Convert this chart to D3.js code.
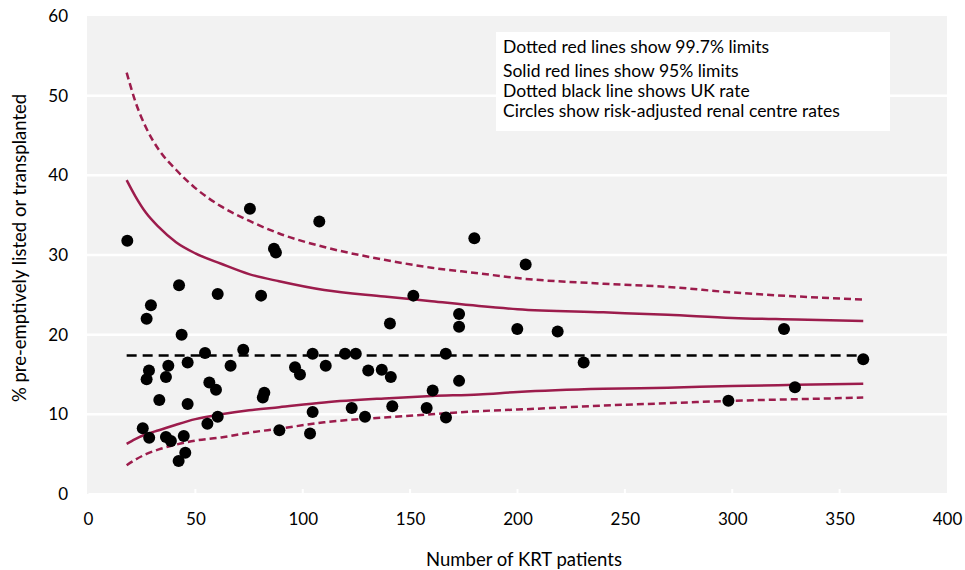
<!DOCTYPE html>
<html><head><meta charset="utf-8">
<script src="https://cdn.jsdelivr.net/npm/d3@7/dist/d3.min.js"></script>
<style>
body{margin:0;background:#fff;}
text{font-family:Lato,"Open Sans",sans-serif;fill:#000;}
</style></head>
<body><svg id="c" width="965" height="570"></svg>
<script>
// Centre points: number of KRT patients, % pre-emptively listed or transplanted
const centreN = [18.3,25.5,27.3,27.3,28.4,28.5,29.3,33.2,36.3,36.3,37.4,38.6,42.4,42.2,43.6,44.6,45.3,46.4,46.4,54.5,55.6,56.5,59.6,60.4,60.4,66.4,72.3,75.4,80.6,81.4,82.1,86.6,87.5,89.1,96.4,98.7,103.4,104.6,104.6,107.7,110.7,119.7,122.8,124.7,129.0,130.5,136.8,141.0,140.6,141.7,151.5,157.7,160.5,166.7,166.6,172.8,172.8,172.8,179.9,199.9,203.8,218.7,230.8,298.2,324.1,329.2,361.0];
const centreRate = [31.8,8.25,22.0,14.4,15.5,7.07,23.7,11.8,14.7,7.16,16.1,6.65,26.2,4.14,20.0,7.28,5.19,16.5,11.3,17.7,8.83,14.0,13.1,25.1,9.7,16.1,18.1,35.8,24.9,12.1,12.7,30.8,30.3,8.0,15.9,15.0,7.6,17.6,10.3,34.2,16.1,17.6,10.8,17.6,9.7,15.5,15.6,14.7,21.4,11.0,24.9,10.8,13.0,9.6,17.6,14.2,22.6,21.0,32.1,20.7,28.8,20.4,16.5,11.7,20.7,13.4,16.9];
// Funnel limits
const limitN   = [18,22,27,33,41,50,62,75,89,110,138,160,182,200,240,270,300,330,361];
const upper997 = [52.9,49.3,46.0,43.2,40.7,38.4,36.1,34.3,32.7,31.0,29.4,28.4,27.7,27.1,26.4,26.0,25.3,24.8,24.4];
const upper95  = [39.4,37.4,35.3,33.5,31.6,30.2,28.9,27.6,26.7,25.6,24.8,24.2,23.6,23.2,22.8,22.5,22.1,21.9,21.7];
const lower95  = [6.3,6.9,7.5,8.0,8.7,9.4,10.0,10.5,10.9,11.5,12.0,12.3,12.5,12.8,13.2,13.35,13.55,13.7,13.85];
const lower997 = [3.6,4.3,5.0,5.6,6.2,6.7,7.1,7.7,8.2,9.0,9.6,10.0,10.4,10.6,11.1,11.4,11.7,11.9,12.1];
const ukRate = 17.4;
const ukRange = [18, 361];
const xTicks = [0,50,100,150,200,250,300,350,400];
const yTicks = [0,10,20,30,40,50,60];
const legendLines = ["Dotted red lines show 99.7% limits","Solid red lines show 95% limits","Dotted black line shows UK rate","Circles show risk-adjusted renal centre rates"];

const svg = d3.select("#c");
const x = d3.scaleLinear().domain([0,400]).range([88,947]);
const y = d3.scaleLinear().domain([0,60]).range([494,16]);
const red = "#9c1c4c";

svg.append("rect").attr("x",87).attr("y",y(60)).attr("width",947-87).attr("height",y(0)-y(60)).attr("fill","#f2f2f2");

// gridlines
svg.append("g").selectAll("line").data(yTicks.filter(d=>d>0&&d<60)).join("line")
  .attr("x1",87).attr("x2",947).attr("y1",d=>y(d)).attr("y2",d=>y(d))
  .attr("stroke","#fff").attr("stroke-width",2.5);

// x axis
const xa = svg.append("g").attr("transform",`translate(0,${y(0)})`)
  .call(d3.axisBottom(x).tickValues(xTicks).tickSize(0).tickPadding(19));
xa.select(".domain").attr("stroke","#fff").attr("stroke-width",3);
xa.selectAll("text").attr("font-size",17).attr("font-family","Lato,sans-serif");
svg.append("g").selectAll("line").data(xTicks.slice(1,-1)).join("line")
  .attr("x1",d=>x(d)).attr("x2",d=>x(d)).attr("y1",y(0)).attr("y2",y(0)-5)
  .attr("stroke","#fff").attr("stroke-width",2);

// y axis
const ya = svg.append("g").attr("transform",`translate(88,0)`)
  .call(d3.axisLeft(y).tickValues(yTicks).tickSize(0).tickPadding(20));
ya.select(".domain").remove();
ya.selectAll("text").attr("font-size",17).attr("font-family","Lato,sans-serif");

// legend box
const lg = svg.append("g");
lg.append("rect").attr("x",496).attr("y",32).attr("width",394).attr("height",99).attr("fill","#fff");
const lgY = [47,70.5,90.5,110.5];
lg.selectAll("text").data(legendLines).join("text")
  .attr("x",503).attr("y",(d,i)=>lgY[i]).attr("dy","0.35em")
  .attr("font-size",17.5).text(d=>d);

// funnel lines
const lineOf = vals => d3.line().curve(d3.curveMonotoneX).x((d,i)=>x(limitN[i])).y(d=>y(d))(vals);
[[upper997,"7,4"],[lower997,"7,4"],[upper95,null],[lower95,null]].forEach(([v,dash])=>{
  const p = svg.append("path").attr("d",lineOf(v)).attr("fill","none")
    .attr("stroke",red).attr("stroke-width",2.5);
  if(dash) p.attr("stroke-dasharray",dash);
});

// UK rate line
svg.append("line").attr("x1",x(ukRange[0])).attr("x2",x(ukRange[1]))
  .attr("y1",y(ukRate)).attr("y2",y(ukRate))
  .attr("stroke","#000").attr("stroke-width",2.5).attr("stroke-dasharray","10,6");

// points
svg.append("g").selectAll("circle").data(centreN).join("circle")
  .attr("cx",d=>x(d)).attr("cy",(d,i)=>y(centreRate[i])).attr("r",6).attr("fill","#000");

// axis titles
svg.append("text").attr("x",524).attr("y",560).attr("dy","0.35em").attr("text-anchor","middle")
  .attr("font-size",18.5).text("Number of KRT patients");
svg.append("text").attr("transform","translate(20,248) rotate(-90)").attr("dy","0.35em")
  .attr("text-anchor","middle").attr("font-size",18.5).text("% pre-emptively listed or transplanted");
</script></body></html>
